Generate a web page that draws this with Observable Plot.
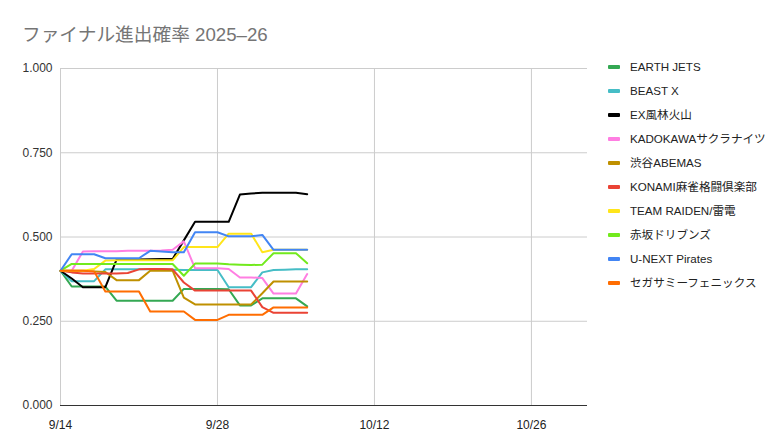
<!DOCTYPE html>
<html>
<head>
<meta charset="utf-8">
<script src="https://cdn.jsdelivr.net/npm/d3@7"></script>
<script src="https://cdn.jsdelivr.net/npm/@observablehq/plot@0.6"></script>
<style>
  html, body { margin: 0; padding: 0; background: #fff; }
  #wrap { position: relative; width: 780px; height: 448px; overflow: hidden;
          font-family: "Liberation Sans", Arial, "Noto Sans CJK JP", sans-serif; }
  #title { position: absolute; left: 22px; top: 25px; font-size: 18.7px; line-height: 20px;
           color: #757575; white-space: nowrap; }
  #chart { position: absolute; left: 0; top: 0; }
  #legend { position: absolute; left: 608px; top: 0; }
  .item { position: absolute; left: 0; white-space: nowrap; font-size: 11.6px; color: #222; line-height: 14px; }
  .sw { position: absolute; left: 0; top: 5px; width: 12px; height: 4px; border-radius: 1px; }
  .lb { position: absolute; left: 22px; top: 0; }
</style>
</head>
<body>
<div id="wrap">
  <div id="chart"></div>
  <div id="title"></div>
  <div id="legend"></div>
</div>
<script>
const titleText = "ファイナル進出確率 2025–26";

const dates = ["2025-09-14","2025-09-15","2025-09-16","2025-09-17","2025-09-18","2025-09-19",
  "2025-09-20","2025-09-21","2025-09-22","2025-09-23","2025-09-24","2025-09-25","2025-09-26",
  "2025-09-27","2025-09-28","2025-09-29","2025-09-30","2025-10-01","2025-10-02","2025-10-03",
  "2025-10-04","2025-10-05","2025-10-06"];

const teams = ["EARTH JETS","BEAST X","EX風林火山","KADOKAWAサクラナイツ","渋谷ABEMAS",
  "KONAMI麻雀格闘倶楽部","TEAM RAIDEN/雷電","赤坂ドリブンズ","U-NEXT Pirates","セガサミーフェニックス"];

const teamColors = ["#34a853","#46bdc6","#000000","#ff7ee2","#bf9000",
  "#ea4335","#ffe51a","#72ea1d","#4285f4","#ff6d01"];

const earthJets = [0.400,0.353,0.353,0.353,0.353,0.311,0.311,0.311,0.311,0.311,0.311,0.346,0.346,0.346,0.346,0.345,0.297,0.297,0.318,0.318,0.318,0.318,0.294];
const beastX    = [0.400,0.369,0.369,0.369,0.404,0.404,0.404,0.404,0.404,0.404,0.403,0.402,0.402,0.402,0.402,0.351,0.351,0.351,0.395,0.402,0.403,0.404,0.404];
const exFurin   = [0.400,0.377,0.351,0.351,0.351,0.433,0.433,0.433,0.434,0.435,0.435,0.490,0.545,0.545,0.545,0.545,0.626,0.629,0.631,0.631,0.631,0.631,0.627];
const kadokawa  = [0.400,0.400,0.457,0.458,0.458,0.458,0.459,0.459,0.459,0.460,0.462,0.487,0.407,0.407,0.407,0.405,0.380,0.380,0.378,0.332,0.332,0.332,0.390];
const abemas    = [0.400,0.400,0.400,0.398,0.396,0.372,0.372,0.372,0.400,0.400,0.400,0.320,0.300,0.300,0.300,0.300,0.300,0.300,0.333,0.368,0.368,0.368,0.368];
const konami    = [0.400,0.395,0.392,0.392,0.392,0.392,0.393,0.404,0.405,0.405,0.404,0.365,0.341,0.341,0.341,0.341,0.341,0.341,0.292,0.275,0.275,0.275,0.275];
const raiden    = [0.400,0.400,0.400,0.405,0.430,0.431,0.431,0.431,0.431,0.431,0.431,0.470,0.470,0.470,0.470,0.510,0.510,0.510,0.455,0.462,0.462,0.462,0.462];
const drivens   = [0.400,0.420,0.420,0.420,0.420,0.420,0.420,0.420,0.420,0.420,0.420,0.385,0.421,0.421,0.421,0.419,0.418,0.417,0.418,0.452,0.452,0.452,0.422];
const pirates   = [0.400,0.449,0.449,0.449,0.437,0.437,0.437,0.437,0.459,0.457,0.455,0.455,0.514,0.514,0.514,0.502,0.502,0.502,0.506,0.462,0.462,0.462,0.462];
const phoenix   = [0.400,0.400,0.400,0.398,0.338,0.338,0.338,0.338,0.279,0.279,0.279,0.279,0.254,0.254,0.254,0.269,0.269,0.269,0.269,0.291,0.291,0.291,0.291];

const seriesValues = [earthJets, beastX, exFurin, kadokawa, abemas, konami, raiden, drivens, pirates, phoenix];

const xDomain = ["2025-09-14", "2025-10-31"];
const xTicks = ["2025-09-14", "2025-09-28", "2025-10-12", "2025-10-26"];
const xTickLabels = ["9/14", "9/28", "10/12", "10/26"];
const yTicks = [0, 0.25, 0.5, 0.75, 1];
const yTickLabels = ["0.000", "0.250", "0.500", "0.750", "1.000"];

const rows = [];
teams.forEach((t, i) => {
  seriesValues[i].forEach((v, j) => rows.push({team: t, date: new Date(dates[j]), value: v}));
});
const xTickDates = xTicks.map(d => new Date(d));
const xLab = new Map(xTicks.map((d, i) => [+new Date(d), xTickLabels[i]]));
const yLab = new Map(yTicks.map((d, i) => [d, yTickLabels[i]]));

const chart = Plot.plot({
  width: 600,
  height: 448,
  marginTop: 68,
  marginBottom: 43,
  marginLeft: 60,
  marginRight: 13,
  style: {fontFamily: '"Liberation Sans", Arial, sans-serif', fontSize: "12px", color: "#333", background: "transparent"},
  x: {type: "utc", domain: xDomain.map(d => new Date(d))},
  y: {domain: [0, 1]},
  color: {domain: teams, range: teamColors},
  marks: [
    Plot.gridX(xTickDates, {stroke: "#cccccc", strokeOpacity: 1}),
    Plot.gridY(yTicks.filter(d => d > 0), {stroke: "#cccccc", strokeOpacity: 1}),
    Plot.axisX(xTickDates, {tickSize: 0, tickPadding: 15, tickFormat: d => xLab.get(+d), label: null, fill: "#222"}),
    Plot.axisY(yTicks, {tickSize: 0, tickPadding: 8, tickFormat: d => yLab.get(d), label: null, fill: "#333"}),
    Plot.ruleY([0], {stroke: "#333333", strokeWidth: 1}),
    Plot.line(rows, {x: "date", y: "value", z: "team", stroke: "team", strokeWidth: 2, strokeLinejoin: "round"})
  ]
});
document.getElementById("chart").appendChild(chart);
document.getElementById("title").textContent = titleText;

const legend = document.getElementById("legend");
teams.forEach((t, i) => {
  const item = document.createElement("div");
  item.className = "item";
  item.style.top = (60 + i * 24) + "px";
  const sw = document.createElement("div");
  sw.className = "sw";
  sw.style.background = teamColors[i];
  const lb = document.createElement("div");
  lb.className = "lb";
  lb.textContent = t;
  item.appendChild(sw);
  item.appendChild(lb);
  legend.appendChild(item);
});
</script>
</body>
</html>
